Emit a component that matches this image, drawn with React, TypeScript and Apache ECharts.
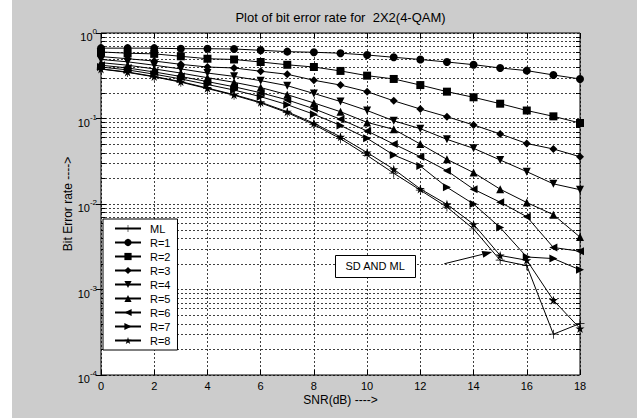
import React, { useEffect, useRef } from 'react';
import * as echarts from 'echarts';

const snr = [0, 1, 2, 3, 4, 5, 6, 7, 8, 9, 10, 11, 12, 13, 14, 15, 16, 17, 18];

const berML = [0.378, 0.346, 0.307, 0.266, 0.224, 0.187, 0.152, 0.117, 0.085, 0.058, 0.037, 0.0229, 0.0145, 0.0092, 0.0051, 0.0022, 0.0019, 0.0003, 0.0004];
const berR1 = [0.665, 0.665, 0.665, 0.655, 0.655, 0.65, 0.628, 0.605, 0.595, 0.58, 0.553, 0.52, 0.49, 0.458, 0.426, 0.39, 0.363, 0.323, 0.29];
const berR2 = [0.6, 0.58, 0.57, 0.534, 0.5, 0.49, 0.458, 0.425, 0.4, 0.36, 0.317, 0.29, 0.246, 0.206, 0.177, 0.149, 0.124, 0.106, 0.0886];
const berR3 = [0.53, 0.5, 0.47, 0.43, 0.4, 0.39, 0.357, 0.329, 0.28, 0.246, 0.206, 0.161, 0.129, 0.105, 0.084, 0.066, 0.051, 0.044, 0.0357];
const berR4 = [0.49, 0.46, 0.42, 0.38, 0.34, 0.311, 0.277, 0.242, 0.196, 0.158, 0.124, 0.094, 0.076, 0.057, 0.0448, 0.0327, 0.0239, 0.0172, 0.0147];
const berR5 = [0.45, 0.42, 0.38, 0.34, 0.3, 0.265, 0.23, 0.19, 0.152, 0.12, 0.09, 0.0747, 0.0503, 0.0333, 0.0233, 0.0149, 0.0104, 0.0075, 0.0041];
const berR6 = [0.42, 0.39, 0.35, 0.31, 0.27, 0.235, 0.2, 0.165, 0.13, 0.098, 0.0714, 0.0503, 0.0357, 0.0245, 0.0149, 0.0105, 0.0071, 0.0031, 0.0028];
const berR7 = [0.4, 0.37, 0.33, 0.29, 0.25, 0.215, 0.18, 0.145, 0.112, 0.083, 0.0586, 0.0374, 0.0278, 0.0157, 0.01, 0.0053, 0.0024, 0.0023, 0.0017];
const berR8 = [0.38, 0.35, 0.31, 0.27, 0.227, 0.19, 0.155, 0.12, 0.088, 0.061, 0.04, 0.0255, 0.015, 0.0099, 0.0058, 0.0025, 0.0022, 0.00075, 0.00035];

const seriesNames = ['ML', 'R=1', 'R=2', 'R=3', 'R=4', 'R=5', 'R=6', 'R=7', 'R=8'];
const seriesValues = [berML, berR1, berR2, berR3, berR4, berR5, berR6, berR7, berR8];

const xTickLabels = ['0', '2', '4', '6', '8', '10', '12', '14', '16', '18'];
const yDecades = [-4, -3, -2, -1, 0];

const titleText = 'Plot of bit error rate for  2X2(4-QAM)';
const xName = 'SNR(dB) ---->';
const yName = 'Bit Error rate ---->';
const annotationText = 'SD AND ML';

const FONT = '"Liberation Sans", Arial, Helvetica, sans-serif';

const STAR = 'path://M50,0 L61.23,34.55 L97.55,34.55 L68.16,55.9 L79.39,90.45 L50,69.1 L20.61,90.45 L31.84,55.9 L2.45,34.55 L38.77,34.55 Z';
const PLUS = 'path://M4.6,0 H5.4 V4.6 H10 V5.4 H5.4 V10 H4.6 V5.4 H0 V4.6 H4.6 Z';
const TRI_DOWN = 'path://M0,0 L10,0 L5,10 Z';
const TRI_LEFT = 'path://M10,0 L10,10 L0,5 Z';
const TRI_RIGHT = 'path://M0,0 L0,10 L10,5 Z';

const symbols = [PLUS, 'circle', 'rect', 'diamond', TRI_DOWN, 'triangle', TRI_LEFT, TRI_RIGHT, STAR];
const symbolSizes = [9, 8, 8, 8, 8, 8, 8, 8, 9];

export default function App() {
  const ref = useRef<HTMLDivElement>(null);

  useEffect(() => {
    if (!ref.current) return;
    const chart = echarts.init(ref.current, null, { renderer: 'svg' });

    const minorVals: number[] = [];
    for (const e of yDecades.slice(0, -1)) {
      for (let k = 2; k <= 9; k++) minorVals.push(k * Math.pow(10, e));
    }

    const lineSeries = seriesNames.map((name, si) => ({
      name,
      type: 'line',
      data: snr.map((x, i) => [x, seriesValues[si][i]]),
      symbol: symbols[si],
      symbolSize: symbolSizes[si],
      showSymbol: true,
      lineStyle: { color: '#000', width: 1 },
      itemStyle: { color: '#000' },
      z: 3,
    }));

    const minorSeries = {
      name: 'minor',
      type: 'custom',
      silent: true,
      z: 1,
      data: minorVals.map((v) => [0, v]),
      encode: { x: 0, y: 1 },
      renderItem: (params: any, api: any) => {
        const cs = params.coordSys;
        const y = Math.round(api.coord([0, api.value(1)])[1]) + 0.5;
        return {
          type: 'group',
          children: [
            { type: 'line', shape: { x1: cs.x, y1: y, x2: cs.x + cs.width, y2: y }, style: { stroke: '#000', lineWidth: 1, lineDash: [2, 2], opacity: 0.75 } },
            { type: 'line', shape: { x1: cs.x, y1: y, x2: cs.x + 4, y2: y }, style: { stroke: '#000', lineWidth: 1 } },
            { type: 'line', shape: { x1: cs.x + cs.width - 4, y1: y, x2: cs.x + cs.width, y2: y }, style: { stroke: '#000', lineWidth: 1 } },
          ],
        };
      },
    };

    const gridLine = { show: true, lineStyle: { color: '#000', type: [2, 2], width: 1, opacity: 0.75 } };

    const option: any = {
      animation: false,
      backgroundColor: '#cccccc',
      textStyle: { fontFamily: FONT },
      grid: { left: 101, top: 33, width: 479, height: 342, show: true, backgroundColor: '#fff', borderColor: '#000', borderWidth: 1 },
      legend: {
        data: seriesNames,
        orient: 'vertical',
        left: 103,
        top: 219,
        itemWidth: 26,
        itemHeight: 9,
        itemGap: 3,
        padding: [4, 7, 4, 11],
        backgroundColor: '#fff',
        borderColor: '#000',
        borderWidth: 1,
        borderRadius: 0,
        textStyle: { color: '#000', fontSize: 11, fontFamily: FONT, padding: [0, 0, 0, 4] },
      },
      xAxis: [
        {
          type: 'value', min: 0, max: 18, interval: 2,
          name: xName, nameLocation: 'middle', nameGap: 19, nameMoveOverlap: false,
          nameTextStyle: { color: '#000', fontSize: 12, fontFamily: FONT },
          axisLine: { show: false },
          axisTick: { show: true, inside: true, length: 5, lineStyle: { color: '#000' } },
          axisLabel: { color: '#000', fontSize: 11, margin: 5, fontFamily: FONT, formatter: (v: number) => xTickLabels[Math.round(v / 2)] },
          splitLine: gridLine,
        },
        {
          type: 'value', min: 0, max: 18, interval: 2, position: 'top',
          axisLine: { show: false },
          axisTick: { show: true, inside: true, length: 5, lineStyle: { color: '#000' } },
          axisLabel: { show: false },
          splitLine: { show: false },
        },
      ],
      yAxis: [
        {
          type: 'log', logBase: 10, min: 1e-4, max: 1,
          name: yName, nameLocation: 'middle', nameGap: 27, nameMoveOverlap: false,
          nameTextStyle: { color: '#000', fontSize: 12, fontFamily: FONT },
          axisLine: { show: false },
          axisTick: { show: true, inside: true, length: 5, lineStyle: { color: '#000' } },
          axisLabel: {
            color: '#000', margin: 4,
            formatter: (v: number) => `{b|10}{e|${Math.round(Math.log10(v))}}`,
            rich: {
              b: { fontSize: 11, fontFamily: FONT, color: '#000', lineHeight: 11, padding: [8, 0, 0, 0] },
              e: { fontSize: 8, fontFamily: FONT, color: '#000', lineHeight: 8, verticalAlign: 'top' },
            },
          },
          splitLine: gridLine,
        },
        {
          type: 'log', logBase: 10, min: 1e-4, max: 1, position: 'right',
          axisLine: { show: false },
          axisTick: { show: true, inside: true, length: 5, lineStyle: { color: '#000' } },
          axisLabel: { show: false },
          splitLine: { show: false },
        },
      ],
      series: [minorSeries, ...lineSeries],
    };

    chart.setOption(option);

    const px = (x: number, y: number) => chart.convertToPixel({ gridIndex: 0 }, [x, y]) as number[];
    const boxTL = px(8.8, 0.00253);
    const boxBR = px(11.8, 0.0014);
    const arrowStart = px(12.9, 0.002);
    const arrowTip = px(14.7, 0.00275);
    const dx = arrowTip[0] - arrowStart[0];
    const dy = arrowTip[1] - arrowStart[1];
    const len = Math.sqrt(dx * dx + dy * dy);
    const ux = dx / len, uy = dy / len;
    const hl = 10, hw = 3.5;
    const base = [arrowTip[0] - ux * hl, arrowTip[1] - uy * hl];

    chart.setOption({
      graphic: [
        { type: 'rect', left: 0, top: 0, shape: { width: 12, height: 418 }, style: { fill: '#fff' }, z: 0, silent: true },
        {
          type: 'text', x: 340.5, y: 17,
          style: { text: titleText, fill: '#000', font: `13px ${FONT}`, textAlign: 'center', textVerticalAlign: 'middle' },
        },
        {
          type: 'rect',
          shape: { x: Math.round(boxTL[0]) + 0.5, y: Math.round(boxTL[1]) + 0.5, width: Math.round(boxBR[0] - boxTL[0]), height: Math.round(boxBR[1] - boxTL[1]) },
          style: { fill: '#fff', stroke: '#000', lineWidth: 1 }, z: 10,
        },
        {
          type: 'text', x: (boxTL[0] + boxBR[0]) / 2, y: (boxTL[1] + boxBR[1]) / 2,
          style: { text: annotationText, fill: '#000', font: `11px ${FONT}`, textAlign: 'center', textVerticalAlign: 'middle' }, z: 11,
        },
        {
          type: 'line', shape: { x1: arrowStart[0], y1: arrowStart[1], x2: base[0], y2: base[1] },
          style: { stroke: '#000', lineWidth: 1 }, z: 10,
        },
        {
          type: 'polygon',
          shape: { points: [arrowTip, [base[0] - uy * hw, base[1] + ux * hw], [base[0] + uy * hw, base[1] - ux * hw]] },
          style: { fill: '#000' }, z: 10,
        },
      ],
    });

    return () => chart.dispose();
  }, []);

  return <div ref={ref} style={{ position: 'fixed', left: 0, top: 0, width: 637, height: 418 }} />;
}
